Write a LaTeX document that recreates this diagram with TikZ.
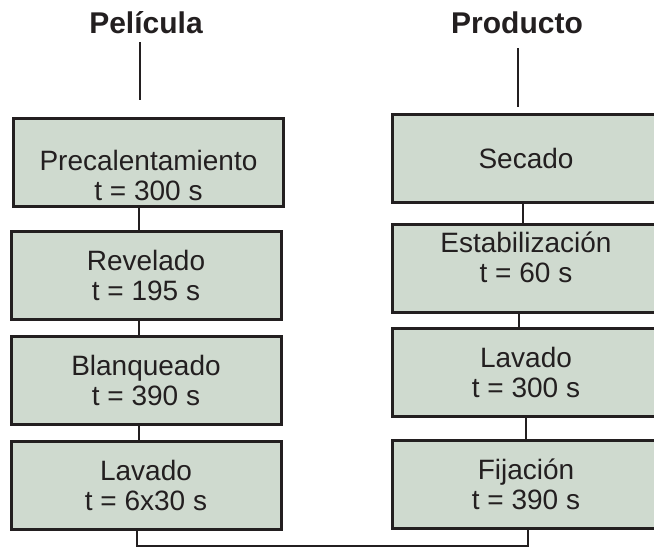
\documentclass[tikz,border=0pt]{standalone}
\usepackage{fontspec}
\setmainfont{Liberation Sans}
\usetikzlibrary{positioning}
\definecolor{boxfill}{RGB}{207,218,207}
\definecolor{boxline}{RGB}{35,31,32}
\tikzset{
  stepbox/.style={draw=boxline, line width=3pt, fill=boxfill, text=boxline, align=center,
    minimum height=88pt, inner sep=0pt, font=\fontsize{28}{30}\selectfont},
  leftbox/.style={stepbox, minimum width=270pt},
  rightbox/.style={stepbox, minimum width=268pt},
  title/.style={font=\fontsize{30}{34}\selectfont\bfseries, text=boxline, inner sep=0pt, anchor=base},
  link/.style={draw=boxline, line width=2pt}
}
\begin{document}
\begin{tikzpicture}[x=1pt,y=-1pt]
      \useasboundingbox (0,0) rectangle (654,547);
      % Titles
      \node[title] (pel) at (146,33) {Película};
      \node[title] (prod) at (517,33) {Producto};
      % Film steps
      \node[leftbox] (pre) at (148.5,162.5) {\rule{0pt}{46pt}Precalentamiento\\t = 300 s};
      \node[leftbox] (rev) at (146,275) {Revelado\\t = 195 s};
      \node[leftbox] (bla) at (146,380.5) {Blanqueado\\t = 390 s};
      \node[leftbox] (lavp) at (146,485.5) {Lavado\\t = 6x30 s};
      % Product steps
      \node[rightbox] (sec) at (526,158) {Secado};
      \node[rightbox] (est) at (526,268) {Estabilización\\t = 60 s\rule[-22pt]{0pt}{22pt}};
      \node[rightbox] (lavq) at (526,372) {Lavado\\t = 300 s};
      \node[rightbox] (fij) at (526,484.5) {Fijación\\t = 390 s};
      % Title lines
      \draw[link, shorten <=9pt, shorten >=17pt] ([xshift=-6pt]pel.south) -- ([xshift=-6pt]pel.south |- pre.north);
      \draw[link, shorten <=15pt, shorten >=6pt] ([xshift=1pt]prod.south) -- ([xshift=1pt]prod.south |- sec.north);
      % Film links
      \draw[link] ([xshift=-7pt]rev.north |- pre.south) -- ([xshift=-7pt]rev.north);
      \draw[link] ([xshift=-7pt]rev.south) -- ([xshift=-7pt]bla.north);
      \draw[link] ([xshift=-7pt]bla.south) -- ([xshift=-7pt]lavp.north);
      % Product links
      \draw[link] ([xshift=-3pt]sec.south) -- ([xshift=-3pt]est.north);
      \draw[link] ([xshift=-7pt]est.south) -- ([xshift=-7pt]lavq.north);
      \draw[link] (lavq.south) -- (fij.north);
      % Bottom link
      \draw[link] ([xshift=-9pt]lavp.south) -- ++(0,15) -| ([xshift=2pt]fij.south);
    \end{tikzpicture}
\end{document}
